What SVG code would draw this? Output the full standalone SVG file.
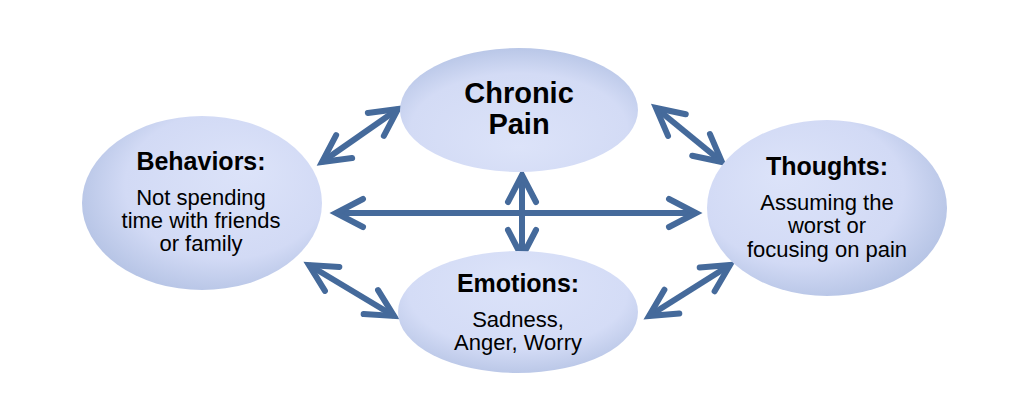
<svg xmlns="http://www.w3.org/2000/svg" width="1024" height="418" viewBox="0 0 1024 418">
  <style>
    .title { font-family: "Liberation Sans", Arial, sans-serif; font-weight: bold; font-size: 25px; fill: #000; text-anchor: middle; }
    .big { font-size: 29px; }
    .body { font-family: "Liberation Sans", Arial, sans-serif; font-size: 22px; fill: #000; text-anchor: middle; }
    .conn { stroke: #456a9b; stroke-width: 6; fill: none; marker-start: url(#head); marker-end: url(#head); }
  </style>
  <defs>
    <marker id="head" markerUnits="userSpaceOnUse" markerWidth="40" markerHeight="40" viewBox="-34 -20 40 40" refX="0" refY="0" orient="auto-start-reverse" overflow="visible">
      <path d="M-27,-14 L0,0 L-27,14" fill="none" stroke="#456a9b" stroke-width="6" stroke-linecap="round" stroke-linejoin="miter"/>
    </marker>
    <radialGradient id="gTop" cx="0.5" cy="0.6" r="0.65" fx="0.5" fy="0.8">
      <stop offset="0" stop-color="#dce3f9"/>
      <stop offset="0.7" stop-color="#d3dbf5"/>
      <stop offset="1" stop-color="#b3c2e4"/>
    </radialGradient>
    <radialGradient id="gLeft" cx="0.55" cy="0.45" r="0.65" fx="0.7" fy="0.3">
      <stop offset="0" stop-color="#dce3f9"/>
      <stop offset="0.65" stop-color="#d2daf5"/>
      <stop offset="1" stop-color="#adbde0"/>
    </radialGradient>
    <radialGradient id="gRight" cx="0.45" cy="0.45" r="0.65" fx="0.3" fy="0.3">
      <stop offset="0" stop-color="#dce3f9"/>
      <stop offset="0.65" stop-color="#d2daf5"/>
      <stop offset="1" stop-color="#adbde0"/>
    </radialGradient>
    <radialGradient id="gBottom" cx="0.5" cy="0.4" r="0.65" fx="0.5" fy="0.2">
      <stop offset="0" stop-color="#dce3f9"/>
      <stop offset="0.7" stop-color="#d4dcf6"/>
      <stop offset="1" stop-color="#b5c3e4"/>
    </radialGradient>
  </defs>

  <rect width="1024" height="418" fill="#ffffff"/>

  <g id="connectors">
    <line class="conn" x1="322" y1="162" x2="398" y2="109"/>
    <line class="conn" x1="656" y1="108" x2="722" y2="162"/>
    <line class="conn" x1="309" y1="265" x2="394" y2="316"/>
    <line class="conn" x1="649" y1="316" x2="730" y2="265"/>
    <line class="conn" x1="336" y1="213" x2="696" y2="213"/>
    <line class="conn" x1="522" y1="175" x2="522" y2="257"/>
  </g>

  <g id="chronic-pain">
    <ellipse cx="519" cy="110" rx="119" ry="62" fill="url(#gTop)"/>
    <text class="title big" x="519" y="103">Chronic</text>
    <text class="title big" x="519" y="134">Pain</text>
  </g>

  <g id="behaviors">
    <ellipse cx="202" cy="203" rx="120" ry="87" fill="url(#gLeft)"/>
    <text class="title" x="201" y="170">Behaviors:</text>
    <text class="body" x="201" y="205">Not spending</text>
    <text class="body" x="201" y="228">time with friends</text>
    <text class="body" x="201" y="251">or family</text>
  </g>

  <g id="thoughts">
    <ellipse cx="827" cy="208" rx="120" ry="88" fill="url(#gRight)"/>
    <text class="title" x="827" y="175">Thoughts:</text>
    <text class="body" x="827" y="210">Assuming the</text>
    <text class="body" x="827" y="233">worst or</text>
    <text class="body" x="827" y="257">focusing on pain</text>
  </g>

  <g id="emotions">
    <ellipse cx="518" cy="312" rx="120" ry="61" fill="url(#gBottom)"/>
    <text class="title" x="518" y="292">Emotions:</text>
    <text class="body" x="518" y="327">Sadness,</text>
    <text class="body" x="518" y="350">Anger, Worry</text>
  </g>
</svg>
